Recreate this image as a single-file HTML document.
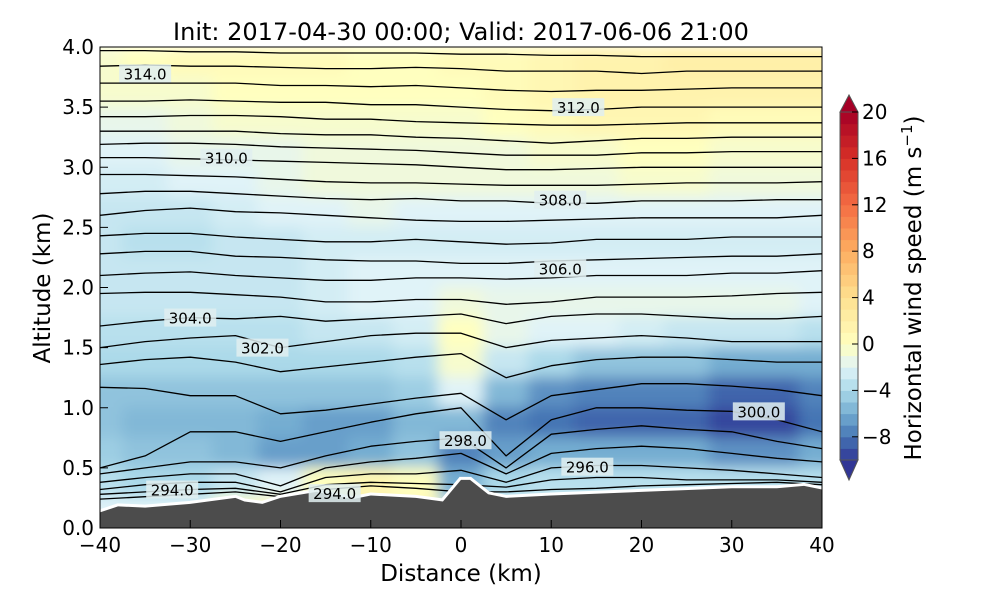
<!DOCTYPE html>
<html><head><meta charset="utf-8"><style>
body{margin:0;background:#fff;}
svg{font-family:"DejaVu Sans","Liberation Sans",sans-serif;}
</style></head><body>
<svg id="chart" width="1000" height="600" viewBox="0 0 1000 600" xmlns="http://www.w3.org/2000/svg">
<defs>
<clipPath id="plotclip"><rect x="100" y="47" width="722" height="481"/></clipPath>
<filter id="smooth" x="0" y="0" width="1" height="1"><feGaussianBlur stdDeviation="7" edgeMode="duplicate"/></filter>
</defs>
<text x="461" y="40" font-size="24" text-anchor="middle">Init: 2017-04-30 00:00; Valid: 2017-06-06 21:00</text>
<g id="heat" clip-path="url(#plotclip)"><g id="heatinner" filter="url(#smooth)"></g></g>
<g id="contours" clip-path="url(#plotclip)"></g>
<g id="terrain" clip-path="url(#plotclip)"></g>
<g id="clabels"></g>
<rect x="100" y="47" width="722" height="481" fill="none" stroke="#000" stroke-width="1"/>
<g id="axes"></g>
<text x="461" y="581" font-size="23" text-anchor="middle">Distance (km)</text>
<text transform="translate(50,288) rotate(-90)" font-size="23" text-anchor="middle">Altitude (km)</text>
<g id="cbar"></g>
<text transform="translate(921,288) rotate(-90)" font-size="23" text-anchor="middle">Horizontal wind speed (m s<tspan dy="-9" font-size="15">−1</tspan><tspan dy="9">)</tspan></text>
</svg>
<script>
const xs = [-40,-35,-30,-25,-20,-15,-10,-5,0,5,10,15,20,25,30,35,40];
const alts = [3.875,3.625,3.375,3.125,2.875,2.625,2.375,2.125,1.875,1.625,1.375,1.125,0.875,0.625,0.375,0.125];
const wind = [
[-0.5,0,0.5,0.5,0.5,0.5,0,0,0.5,0.5,1,1.5,1.5,2,2,2,2],
[-0.5,-0.5,-0.5,0,0,0,0,0,0,0.5,1,1.5,1.5,1.5,1.5,1.5,1.5],
[-1.5,-1.5,-1,-0.5,-0.5,-0.5,-0.5,-0.5,-0.5,0,0.5,1,1,1,0.5,0.5,0.5],
[-2,-2,-1.5,-1.5,-1.5,-1,-1,-1,-1,-1,-0.5,-0.5,0,0,-0.5,-0.5,-0.5],
[-2.5,-2.5,-2,-2,-1.5,-1,-1,-1,-1,-1,-1,-1,-0.5,-0.5,-1,-1,-1],
[-3,-3,-3,-2.5,-2,-2,-1.5,-2,-2,-2,-2,-2,-2,-2,-2,-2,-2],
[-3,-3.5,-3.5,-3,-3,-2.5,-2.5,-2.5,-2.5,-2.5,-2.5,-2.5,-2.5,-2.5,-2.5,-2.5,-2.5],
[-3,-3,-3,-3,-3,-2.5,-2,-2,-2,-2,-2,-2,-2,-2,-2,-2,-2],
[-3,-3,-3,-3,-3,-2.5,-2,-2,-1,-1.5,-1.5,-1.5,-1.5,-1.5,-1.5,-1.5,-2],
[-3.5,-3.5,-3.5,-3.5,-3.5,-3,-3,-2.5,0,-1.5,-2,-2,-2.5,-3,-3,-3,-3.5],
[-4,-4,-4,-4,-4,-4,-4,-3.5,-0.5,-3,-4,-5,-5,-5,-6,-6,-6],
[-5,-5,-5,-5,-5,-5,-5,-4.5,-2,-5.5,-7,-7.5,-7.5,-7.5,-8.5,-8.5,-7.5],
[-5,-5.5,-5.5,-5.5,-6,-6.5,-6.5,-5.5,-5.5,-7.5,-8,-8.5,-8.5,-8.5,-9.5,-9.5,-8],
[-4.5,-5,-5,-5.5,-6.5,-6.5,-6,-5,-7.5,-6.5,-6,-6,-6,-6,-7,-7,-6],
[-3.5,-4,-4,-3,-2,0,1,0,-6,-4,-3.5,-3.5,-3.5,-3.5,-3.5,-3.5,-3.5],
[-2,-2,-2,0,1,2,2,1,-3,-2,-2,-2,-2,-2,-2,-2,-2]
];
const terrainX = [-40,-38,-35,-30,-25,-24,-22,-20,-16,-14,-12,-10,-5,-2,0,1,3,5,10,20,30,35,38,40];
const terrainH = [0.13,0.18,0.17,0.2,0.25,0.22,0.2,0.25,0.3,0.27,0.24,0.27,0.25,0.22,0.4,0.4,0.28,0.25,0.27,0.3,0.33,0.33,0.35,0.32];
const isentropes = [
[3.97,3.97,3.96,3.96,3.95,3.95,3.95,3.95,3.94,3.94,3.93,3.93,3.92,3.92,3.92,3.92,3.92],
[3.84,3.85,3.84,3.84,3.83,3.82,3.82,3.83,3.82,3.8,3.8,3.8,3.78,3.8,3.8,3.8,3.8],
[3.7,3.7,3.7,3.7,3.68,3.68,3.67,3.68,3.66,3.64,3.63,3.64,3.64,3.65,3.66,3.66,3.66],
[3.55,3.55,3.56,3.55,3.54,3.54,3.52,3.52,3.5,3.48,3.47,3.48,3.5,3.5,3.5,3.5,3.5],
[3.42,3.42,3.43,3.43,3.42,3.4,3.4,3.38,3.37,3.36,3.35,3.35,3.36,3.37,3.37,3.37,3.37],
[3.3,3.3,3.3,3.3,3.28,3.27,3.27,3.25,3.24,3.22,3.2,3.22,3.24,3.24,3.25,3.25,3.25],
[3.19,3.2,3.2,3.19,3.17,3.16,3.15,3.14,3.12,3.1,3.1,3.1,3.12,3.12,3.13,3.13,3.13],
[3.08,3.08,3.07,3.06,3.05,3.04,3.03,3.02,3.0,2.98,2.98,2.99,3.0,3.0,3.0,3.0,3.0],
[2.94,2.94,2.93,2.92,2.9,2.88,2.87,2.87,2.86,2.85,2.85,2.85,2.86,2.87,2.87,2.87,2.88],
[2.78,2.8,2.8,2.78,2.76,2.74,2.73,2.74,2.72,2.72,2.7,2.7,2.72,2.72,2.72,2.73,2.73],
[2.6,2.64,2.66,2.63,2.62,2.6,2.58,2.56,2.55,2.55,2.56,2.57,2.58,2.58,2.58,2.58,2.6],
[2.43,2.45,2.45,2.42,2.4,2.38,2.38,2.4,2.38,2.36,2.37,2.4,2.4,2.4,2.42,2.42,2.42],
[2.28,2.3,2.3,2.26,2.25,2.23,2.22,2.22,2.2,2.2,2.22,2.23,2.24,2.25,2.26,2.26,2.28],
[2.1,2.12,2.13,2.1,2.08,2.06,2.06,2.08,2.08,2.07,2.08,2.1,2.1,2.1,2.12,2.12,2.14],
[1.95,1.96,1.96,1.94,1.92,1.88,1.88,1.9,1.9,1.86,1.88,1.92,1.92,1.92,1.93,1.95,1.96],
[1.68,1.72,1.75,1.74,1.76,1.72,1.74,1.76,1.78,1.7,1.76,1.78,1.78,1.76,1.74,1.74,1.76],
[1.5,1.55,1.58,1.6,1.5,1.55,1.6,1.62,1.62,1.5,1.56,1.58,1.6,1.58,1.55,1.55,1.55],
[1.36,1.4,1.42,1.38,1.3,1.34,1.38,1.42,1.45,1.25,1.35,1.4,1.42,1.42,1.4,1.38,1.38],
[1.17,1.16,1.1,1.1,0.95,0.98,1.03,1.08,1.12,0.9,1.1,1.15,1.2,1.2,1.18,1.15,1.1],
[0.5,0.6,0.8,0.8,0.72,0.8,0.88,0.95,1.0,0.6,0.9,1.0,1.0,0.98,0.97,0.9,0.8],
[0.45,0.5,0.55,0.55,0.5,0.6,0.68,0.72,0.75,0.5,0.78,0.82,0.85,0.82,0.8,0.72,0.66],
[0.38,0.42,0.45,0.45,0.35,0.5,0.55,0.58,0.62,0.45,0.62,0.66,0.68,0.66,0.62,0.58,0.55],
[0.32,0.36,0.38,0.38,0.3,0.42,0.45,0.45,0.48,0.38,0.5,0.52,0.52,0.5,0.48,0.45,0.42],
[0.28,0.3,0.32,0.33,0.28,0.36,0.38,0.37,0.36,0.34,0.4,0.42,0.42,0.4,0.4,0.4,0.38],
[0.24,0.26,0.28,0.3,0.26,0.32,0.35,0.33,0.3,0.3,0.32,0.33,0.35,0.36,0.37,0.38,0.36]
];
const labelText = ["314.0","312.0","310.0","308.0","306.0","304.0","302.0","300.0","298.0","296.0","294.0","294.0"];
const labelX = [-35,13,-26,11,11,-30,-22,33,0.5,14,-32,-14];
const labelAlt = [3.78,3.5,3.08,2.73,2.16,1.75,1.5,0.97,0.73,0.51,0.32,0.29];
const xTicks = [-40,-30,-20,-10,0,10,20,30,40];
const yTicks = [0,0.5,1,1.5,2,2.5,3,3.5,4];
const cbTicks = [-8,-4,0,4,8,12,16,20];

const NS="http://www.w3.org/2000/svg";
const X = v => 100 + (v+40)*722/80;
const Y = a => 528 - a*481/4;
const CB = v => 460 - (v+10)*348/30;
function mk(tag, attrs, parent){const e=document.createElementNS(NS,tag);for(const k in attrs)e.setAttribute(k,attrs[k]);parent.appendChild(e);return e;}
const stops=[[-10,[49,54,149]],[-8,[69,117,180]],[-6,[116,173,209]],[-4,[171,217,233]],[-2,[224,243,248]],[0,[255,255,191]],[4,[254,224,144]],[8,[253,174,97]],[12,[244,109,67]],[16,[215,48,39]],[20,[165,0,38]]];
function col(v){v=Math.max(-10,Math.min(20,v));for(let i=0;i<stops.length-1;i++){const[a,ca]=stops[i],[b,cb]=stops[i+1];if(v<=b){const t=(v-a)/(b-a);return`rgb(${ca.map((c,j)=>Math.round(c+(cb[j]-c)*t)).join(',')})`;}}return'rgb(165,0,38)';}

const heat=document.getElementById('heatinner');
alts.forEach((a,r)=>xs.forEach((x,c)=>{
  const e=mk('rect',{x:X(x-2.5)-0.5,y:Y(a+0.125)-0.5,width:X(x+2.5)-X(x-2.5)+1,height:Y(a-0.125)-Y(a+0.125)+1,fill:col(wind[r][c])},heat);
  
  
}));

const cg=document.getElementById('contours');
isentropes.forEach(line=>{
  const d=line.map((a,i)=>(i?'L':'M')+X(xs[i]).toFixed(1)+' '+Y(a).toFixed(1)).join(' ');
  const e=mk('path',{d:d,fill:'none',stroke:'#000','stroke-width':1.3,'stroke-linejoin':'round'},cg);
  
  
});

const tg=document.getElementById('terrain');
let td='M'+X(-40)+' '+Y(0);
terrainX.forEach((x,i)=>{td+=' L'+X(x).toFixed(1)+' '+Y(terrainH[i]).toFixed(1);});
td+=' L'+X(40)+' '+Y(0)+' Z';
const tline=terrainX.map((x,i)=>(i?'L':'M')+X(x).toFixed(1)+' '+Y(terrainH[i]).toFixed(1)).join(' ');
const tw=mk('path',{d:tline,fill:'none',stroke:'#fff','stroke-width':6},tg);


const tp=mk('path',{d:td,fill:'#4c4c4c'},tg);



const lg=document.getElementById('clabels');
labelText.forEach((t,i)=>{
  const bg=mk('rect',{x:X(labelX[i])-26,y:Y(labelAlt[i])-9,width:52,height:18,fill:'rgba(225,238,240,0.85)'},lg);
  
  
  const e=mk('text',{x:X(labelX[i]),y:Y(labelAlt[i])+6,'font-size':15,'text-anchor':'middle'},lg);
  e.textContent=t;
  
  
});

const ax=document.getElementById('axes');
xTicks.forEach(v=>{
  const l=mk('line',{x1:X(v),x2:X(v),y1:528,y2:520,stroke:'#000'},ax);
  
  
  const t=mk('text',{x:X(v),y:552,'font-size':20,'text-anchor':'middle'},ax);
  t.textContent=v<0?'−'+(-v):String(v);
  
  
});
yTicks.forEach(v=>{
  const l=mk('line',{x1:100,x2:108,y1:Y(v),y2:Y(v),stroke:'#000'},ax);
  
  
  const t=mk('text',{x:94,y:Y(v)+7,'font-size':20,'text-anchor':'end'},ax);
  t.textContent=v.toFixed(1);
  
  
});

const cbg=document.getElementById('cbar');
for(let v=-10;v<20;v++){
  const e=mk('rect',{x:840,y:CB(v+1),width:18,height:CB(v)-CB(v+1)+0.5,fill:col(v+0.5)},cbg);
  
  
}
const up=mk('polygon',{points:`840,${CB(20)} 858,${CB(20)} 849,95`,fill:col(20),stroke:'#555'},cbg);


const dn=mk('polygon',{points:`840,${CB(-10)} 858,${CB(-10)} 849,480`,fill:col(-10),stroke:'#555'},cbg);


const cfr=mk('rect',{x:840,y:CB(20),width:18,height:CB(-10)-CB(20),fill:'none',stroke:'#555'},cbg);


cbTicks.forEach(v=>{
  const l=mk('line',{x1:852,x2:858,y1:CB(v),y2:CB(v),stroke:'#000'},cbg);
  
  
  const t=mk('text',{x:862,y:CB(v)+7,'font-size':20},cbg);
  t.textContent=v<0?'−'+(-v):String(v);
  
  
});
</script>
</body></html>
